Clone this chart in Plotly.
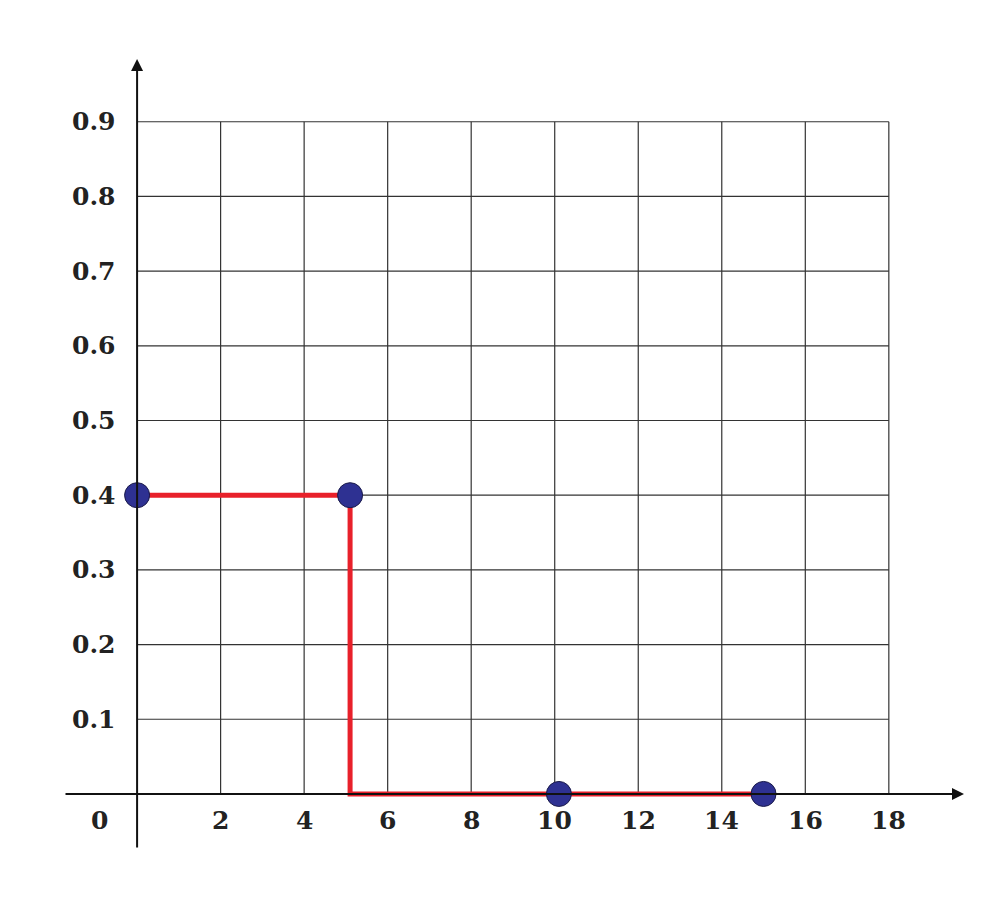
import plotly.graph_objects as go

# data
times = [0, 5.1, 10.1, 15]
accel = [0.4, 0.4, 0, 0]
step_x = [0, 5.1, 5.1, 15]
step_y = [0.4, 0.4, 0, 0]
x_ticks = [0, 2, 4, 6, 8, 10, 12, 14, 16, 18]
y_ticks = [0.1, 0.2, 0.3, 0.4, 0.5, 0.6, 0.7, 0.8, 0.9]

font = dict(family="DejaVu Serif", size=25, color="#222")
title_font = dict(family="DejaVu Serif", size=26, color="#222")

fig = go.Figure()
fig.add_trace(go.Scatter(x=step_x, y=step_y, mode="lines",
                         line=dict(color="#E8202A", width=5), hoverinfo="skip"))
fig.add_trace(go.Scatter(x=times, y=accel, mode="markers",
                         marker=dict(color="#2E3192", size=25,
                                     line=dict(color="#1a1a4a", width=1)),
                         cliponaxis=False))

shapes = []
for xv in x_ticks[1:]:
    shapes.append(dict(type="line", x0=xv, x1=xv, y0=0, y1=0.9,
                       line=dict(color="#333", width=1.2), layer="below"))
for yv in y_ticks:
    shapes.append(dict(type="line", x0=0, x1=18, y0=yv, y1=yv,
                       line=dict(color="#333", width=1.2), layer="below"))

ann = []
# axes with arrows
ann.append(dict(x=19.8, y=0, ax=-1.75, ay=0, xref="x", yref="y", axref="x", ayref="y",
                showarrow=True, arrowhead=2, arrowsize=1.2, arrowwidth=2, arrowcolor="#111", text=""))
ann.append(dict(x=0, y=0.984, ax=0, ay=-0.0737, xref="x", yref="y", axref="x", ayref="y",
                showarrow=True, arrowhead=2, arrowsize=1.2, arrowwidth=2, arrowcolor="#111", text=""))
for xv in x_ticks:
    ann.append(dict(x=xv if xv else -0.9, y=-0.036, text="<b>%d</b>" % xv, showarrow=False,
                    xref="x", yref="y", font=font))
for yv in y_ticks:
    ann.append(dict(x=-0.45, y=yv, text="<b>%.1f</b>" % yv, showarrow=False,
                    xref="x", yref="y", xanchor="right", font=font))
ann.append(dict(x=20.43, y=0.003, xref="x", yref="y", text="<b>x</b>", showarrow=False, font=title_font))
ann.append(dict(x=0.05, y=1.036, xref="x", yref="y", text="<b>y</b>", showarrow=False, font=title_font))
ann.append(dict(x=9.6, y=-0.119, xref="x", yref="y", text="<b>Time (s)</b>",
                showarrow=False, font=title_font))
ann.append(dict(x=-2.75, y=0.506, xref="x", yref="y", text="<b>Acceleration (m/s²)</b>",
                textangle=-90, showarrow=False, font=title_font))

fig.update_layout(
    width=1000, height=903, showlegend=False,
    paper_bgcolor="white", plot_bgcolor="white",
    margin=dict(l=56, r=44, t=51, b=62),
    xaxis=dict(range=[-1.75, 19.8], visible=False),
    yaxis=dict(range=[-0.0737, 0.984], visible=False),
    shapes=shapes, annotations=ann,
)
fig.write_html("out.html")
